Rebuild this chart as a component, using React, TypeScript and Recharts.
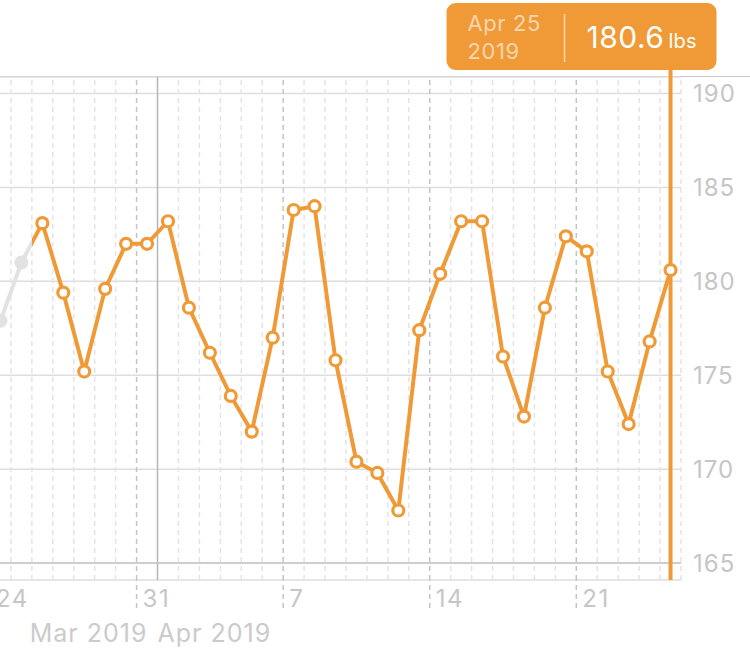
import { LineChart, Line, XAxis, YAxis, CartesianGrid, ReferenceLine } from "recharts";

const dayLabels = [
  "Mar 24", "Mar 25", "Mar 26", "Mar 27", "Mar 28", "Mar 29", "Mar 30", "Mar 31",
  "Apr 1", "Apr 2", "Apr 3", "Apr 4", "Apr 5", "Apr 6", "Apr 7", "Apr 8", "Apr 9",
  "Apr 10", "Apr 11", "Apr 12", "Apr 13", "Apr 14", "Apr 15", "Apr 16", "Apr 17",
  "Apr 18", "Apr 19", "Apr 20", "Apr 21", "Apr 22", "Apr 23", "Apr 24", "Apr 25",
];

const weights = [
  177.9, 181.0, 183.1, 179.4, 175.2, 179.6, 182.0, 182.0,
  183.2, 178.6, 176.2, 173.9, 172.0, 177.0, 183.8, 184.0, 175.8,
  170.4, 169.8, 167.8, 177.4, 180.4, 183.2, 183.2, 176.0,
  172.8, 178.6, 182.4, 181.6, 175.2, 172.4, 176.8, 180.6,
];

// first days are outside the selected range and drawn grey
const historyDays = 2;
const weekTickDays = ["Mar 24", "Mar 31", "Apr 7", "Apr 14", "Apr 21"];
const monthLabels = ["Mar 2019", "Apr 2019"];
const yTicks = [165, 170, 175, 180, 185, 190];
const year = "2019";
const unit = "lbs";

const ORANGE = "#F09A37";
const GREY_LINE = "#e2e2e2";
const LABEL = "#c6c6c6";
const FONT = "Inter, 'Noto Sans', sans-serif";

const data = dayLabels.map((label, i) => ({
  x: i,
  label,
  past: i <= historyDays ? weights[i] : null,
  weight: i >= historyDays ? weights[i] : null,
}));

const lastIdx = dayLabels.length - 1;
const monthStart = dayLabels.findIndex((d) => d.startsWith("Apr"));
const weekTicks = weekTickDays.map((d) => dayLabels.indexOf(d) - 0.5);
const boundaries = [...dayLabels.map((_, i) => i - 0.5), lastIdx + 0.5];

const WeekTick = ({ x, y, payload }: any) => {
  const text = dayLabels[Math.round(payload.value + 0.5)].split(" ")[1];
  return (
    <text x={x + 6} y={y - 3} fill={LABEL} fontSize={24} letterSpacing={1.5} fontFamily={FONT}>
      {text}
    </text>
  );
};

const MonthTick = ({ x, y }: any) => (
  <g fill="#cbcbcb" fontSize={25} letterSpacing={1} fontFamily={FONT}>
    <text x={x - 10} y={y + 26} textAnchor="end">{monthLabels[0]}</text>
    <text x={x} y={y + 26}>{monthLabels[1]}</text>
  </g>
);

const ReadoutBox = ({ viewBox }: any) => {
  if (!viewBox) return null;
  const { x, y } = viewBox;
  return (
    <g fontFamily={FONT}>
      <line x1={x} x2={x} y1={y - 9} y2={y} stroke={ORANGE} strokeWidth={4} />
      <rect x={x - 224} y={y - 74} width={270} height={67} rx={9} fill={ORANGE} />
      <text x={x - 203} y={y - 46} fill="rgba(255,255,255,0.6)" fontSize={22} letterSpacing={0.6}>
        {dayLabels[lastIdx]}
      </text>
      <text x={x - 203} y={y - 18} fill="rgba(255,255,255,0.6)" fontSize={22} letterSpacing={0.6}>
        {year}
      </text>
      <line x1={x - 106} x2={x - 106} y1={y - 63} y2={y - 15} stroke="rgba(255,255,255,0.6)" strokeWidth={1.5} />
      <text x={x - 84} y={y - 29} fill="#fff" fontSize={30} letterSpacing={0.5}>
        {weights[lastIdx].toFixed(1)}
        <tspan fontSize={20} dx={4} letterSpacing={0.2}>{unit}</tspan>
      </text>
    </g>
  );
};

const PastDot = ({ cx, cy, index }: any) =>
  index < historyDays ? <circle key={index} cx={cx} cy={cy} r={7} fill={GREY_LINE} /> : <g key={index} />;

export default function App() {
  return (
    <div style={{ position: "absolute", left: -10, top: 0, width: 760, height: 649 }}>
      <div style={{ position: "absolute", left: 10, right: 0, top: 76, borderTop: "1.5px solid #c8c8c8" }} />
      <LineChart width={760} height={649} data={data} margin={{ top: 77, right: 0, bottom: 0, left: 0 }}>
        <defs>
          <linearGradient id="pastFade" x1="0" y1="0" x2="1" y2="0">
            <stop offset={(historyDays - 0.5) / historyDays} stopColor={GREY_LINE} />
            <stop offset={(historyDays - 0.5) / historyDays} stopColor={ORANGE} />
          </linearGradient>
        </defs>
        {boundaries.map((b) => {
          const isMonth = b === monthStart - 0.5;
          const isWeek = weekTicks.includes(b);
          return (
            <ReferenceLine
              key={b}
              x={b}
              stroke={isMonth ? "#b5b5b5" : isWeek ? "#c4c4c4" : "#e4e4e4"}
              strokeWidth={1.5}
              strokeDasharray={isMonth ? undefined : "5 4"}
            />
          );
        })}
        <CartesianGrid vertical={false} stroke="#dedede" strokeWidth={1.5} />
        <ReferenceLine y={yTicks[0]} stroke="#c4c4c4" strokeWidth={1.5} />
        <XAxis
          type="number"
          dataKey="x"
          domain={[-0.5, lastIdx + 0.5]}
          ticks={weekTicks}
          interval={0}
          height={36}
          axisLine={false}
          tickSize={28}
          tickLine={{ stroke: "#c4c4c4", strokeWidth: 1.5, strokeDasharray: "5 4" }}
          tick={<WeekTick />}
        />
        <XAxis
          xAxisId="month"
          type="number"
          dataKey="x"
          domain={[-0.5, lastIdx + 0.5]}
          ticks={[monthStart - 0.5]}
          interval={0}
          height={33}
          axisLine={false}
          tickLine={false}
          tickSize={0}
          tickMargin={0}
          tick={<MonthTick />}
        />
        <YAxis
          orientation="right"
          width={69}
          domain={[164.1, 190.88]}
          ticks={yTicks}
          axisLine={false}
          tickLine={false}
          tickSize={0}
          tickMargin={12}
          tick={{ fill: LABEL, fontSize: 24, letterSpacing: 1, fontFamily: FONT, textAnchor: "start" }}
        />
        <Line
          type="linear"
          dataKey="past"
          stroke="url(#pastFade)"
          strokeWidth={4}
          dot={<PastDot />}
          activeDot={false}
          isAnimationActive={false}
        />
        <ReferenceLine x={lastIdx} stroke={ORANGE} strokeWidth={4} label={<ReadoutBox />} />
        <Line
          type="linear"
          dataKey="weight"
          stroke={ORANGE}
          strokeWidth={4}
          dot={{ r: 5.5, fill: "#fff", stroke: ORANGE, strokeWidth: 3.2 }}
          activeDot={false}
          isAnimationActive={false}
        />
      </LineChart>
    </div>
  );
}
